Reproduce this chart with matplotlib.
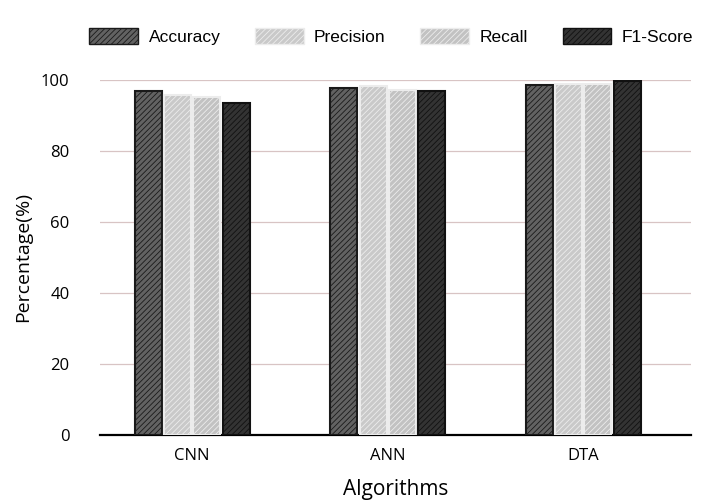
import numpy as np
import matplotlib.pyplot as plt
from matplotlib.patches import Patch

algorithms = ["CNN", "ANN", "DTA"]
metrics = ["Accuracy", "Precision", "Recall", "F1-Score"]
accuracy = [96.8, 97.8, 98.5]
precision = [95.9, 98.2, 99.0]
recall = [95.3, 97.2, 99.0]
f1_score = [93.5, 96.8, 99.6]
yticks = [0, 20, 40, 60, 80, 100]

series = [accuracy, precision, recall, f1_score]
colors = ["#626262", "#c9c9c9", "#c2c2c2", "#333333"]
edges = ["#1a1a1a", "#ececec", "#ececec", "#111111"]

plt.rcParams['font.family'] = ['Open Sans', 'DejaVu Sans']
plt.rcParams['hatch.color'] = '#8a8a8a'
plt.rcParams['hatch.linewidth'] = 0.6

fig = plt.figure(figsize=(7.05, 5), dpi=100)
ax = fig.add_axes([0.142, 0.13, 0.838, 0.71])

x = np.arange(len(algorithms))
width = 0.15
offsets = [-1.5, -0.5, 0.5, 1.5]
for vals, off, c, e in zip(series, offsets, colors, edges):
    ax.bar(x + off * width, vals, width * 0.92, color=c, edgecolor=e,
           linewidth=1.5, hatch="//////", zorder=3)

ax.set_xlim(-0.47, 2.55)
ax.set_ylim(0, 100)
ax.set_yticks(yticks)
ax.set_xticks(x)
ax.set_xticklabels(algorithms, fontsize=12)
ax.tick_params(axis='y', labelsize=12, length=0, pad=22)
ax.tick_params(axis='x', length=0, pad=9)
ax.yaxis.grid(True, color="#d8c4c4", linewidth=0.9, zorder=0)
ax.set_axisbelow(True)
for s in ["top", "right", "left"]:
    ax.spines[s].set_visible(False)
ax.spines["bottom"].set_color("black")
ax.spines["bottom"].set_linewidth(1.6)

ax.set_ylabel("Percentage(%)", fontsize=14, labelpad=6)
ax.set_xlabel("Algorithms", fontsize=15, labelpad=11)

handles = [Patch(facecolor=c, edgecolor=e, hatch="//////") for c, e in zip(colors, edges)]
fig.legend(handles, metrics, loc="upper center", bbox_to_anchor=(0.555, 0.975),
           ncol=4, frameon=False, handlelength=2.8, handleheight=1.0,
           handletextpad=0.6, columnspacing=2.0,
           prop={'family': 'Liberation Sans', 'size': 12.5})

fig.savefig("out.png", dpi=100)
